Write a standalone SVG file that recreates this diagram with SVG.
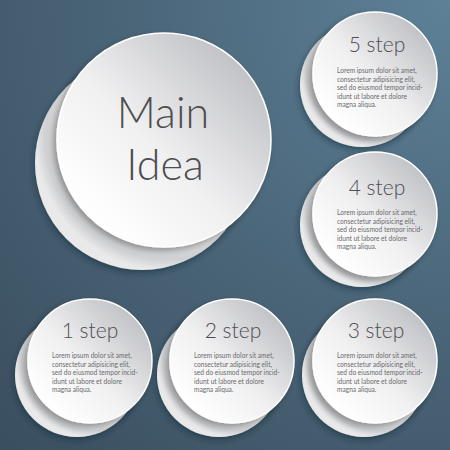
<svg xmlns="http://www.w3.org/2000/svg" width="450" height="450" viewBox="0 0 450 450">
<defs>
<radialGradient id="bg" cx="1" cy="0" r="1.4">
<stop offset="0" stop-color="#5e8198"/>
<stop offset="0.5" stop-color="#4b6679"/>
<stop offset="1" stop-color="#3a4f60"/>
</radialGradient>
<linearGradient id="front" x1="0.15" y1="0.85" x2="0.85" y2="0.15">
<stop offset="0" stop-color="#ffffff"/>
<stop offset="0.45" stop-color="#f0f0f1"/>
<stop offset="1" stop-color="#c2c3c7"/>
</linearGradient>
<radialGradient id="back" cx="0.62" cy="0.38" r="0.62">
<stop offset="0" stop-color="#f4f4f4"/>
<stop offset="0.75" stop-color="#e4e4e5"/>
<stop offset="0.92" stop-color="#cfd0d2"/>
<stop offset="1" stop-color="#e9e9ea"/>
</radialGradient>
<filter id="fs" x="-30%" y="-30%" width="160%" height="160%">
<feDropShadow dx="-3" dy="3" stdDeviation="3" flood-color="#000" flood-opacity="0.35"/>
</filter>
<filter id="bs" x="-30%" y="-30%" width="160%" height="160%">
<feDropShadow dx="-1" dy="3" stdDeviation="3" flood-color="#10202c" flood-opacity="0.45"/>
</filter>
</defs>
<style>
.back{fill:url(#back);filter:url(#bs)}
.front{fill:url(#front);stroke:#ffffff;stroke-width:1.5;filter:url(#fs)}
.title{font-family:Lato,"Open Sans","DejaVu Sans",sans-serif;font-weight:300;fill:#4e4e50;text-anchor:middle}
.body{font-family:Lato,"Open Sans","DejaVu Sans",sans-serif;font-weight:400;font-size:6.6px;fill:#6a6a6c}
</style>
<rect width="450" height="450" fill="url(#bg)"/>
<g id="main">
<circle class="back" cx="142" cy="163" r="107"/>
<circle class="front" cx="164" cy="140" r="107"/>
<text class="title" x="163" y="128" font-size="43">Main</text>
<text class="title" x="165" y="180" font-size="43">Idea</text>
</g>
<g id="step5">
<circle class="back" cx="362" cy="85" r="62"/>
<circle class="front" cx="375" cy="74" r="62"/>
<text class="title" x="377" y="52" font-size="21">5 step</text>
<text class="body" x="337" y="73"><tspan x="337">Lorem ipsum dolor sit amet,</tspan><tspan x="337" dy="8.5">consectetur adipisicing elit,</tspan><tspan x="337" dy="8.5">sed do eiusmod tempor incid-</tspan><tspan x="337" dy="8.5">idunt ut labore et dolore</tspan><tspan x="337" dy="8.5">magna aliqua.</tspan></text>
</g>
<g id="step4">
<circle class="back" cx="362" cy="225" r="62"/>
<circle class="front" cx="375" cy="214" r="62"/>
<text class="title" x="377" y="195" font-size="21">4 step</text>
<text class="body" x="337" y="215"><tspan x="337">Lorem ipsum dolor sit amet,</tspan><tspan x="337" dy="8.5">consectetur adipisicing elit,</tspan><tspan x="337" dy="8.5">sed do eiusmod tempor incid-</tspan><tspan x="337" dy="8.5">idunt ut labore et dolore</tspan><tspan x="337" dy="8.5">magna aliqua.</tspan></text>
</g>
<g id="step1">
<circle class="back" cx="77" cy="375" r="62"/>
<circle class="front" cx="90" cy="361" r="62"/>
<text class="title" x="90" y="338" font-size="21">1 step</text>
<text class="body" x="52" y="358"><tspan x="52">Lorem ipsum dolor sit amet,</tspan><tspan x="52" dy="8.5">consectetur adipisicing elit,</tspan><tspan x="52" dy="8.5">sed do eiusmod tempor incid-</tspan><tspan x="52" dy="8.5">idunt ut labore et dolore</tspan><tspan x="52" dy="8.5">magna aliqua.</tspan></text>
</g>
<g id="step2">
<circle class="back" cx="219" cy="375" r="62"/>
<circle class="front" cx="232" cy="361" r="62"/>
<text class="title" x="233" y="338" font-size="21">2 step</text>
<text class="body" x="194" y="358"><tspan x="194">Lorem ipsum dolor sit amet,</tspan><tspan x="194" dy="8.5">consectetur adipisicing elit,</tspan><tspan x="194" dy="8.5">sed do eiusmod tempor incid-</tspan><tspan x="194" dy="8.5">idunt ut labore et dolore</tspan><tspan x="194" dy="8.5">magna aliqua.</tspan></text>
</g>
<g id="step3">
<circle class="back" cx="364" cy="375" r="62"/>
<circle class="front" cx="375" cy="361" r="62"/>
<text class="title" x="376" y="338" font-size="21">3 step</text>
<text class="body" x="337" y="358"><tspan x="337">Lorem ipsum dolor sit amet,</tspan><tspan x="337" dy="8.5">consectetur adipisicing elit,</tspan><tspan x="337" dy="8.5">sed do eiusmod tempor incid-</tspan><tspan x="337" dy="8.5">idunt ut labore et dolore</tspan><tspan x="337" dy="8.5">magna aliqua.</tspan></text>
</g>
</svg>
